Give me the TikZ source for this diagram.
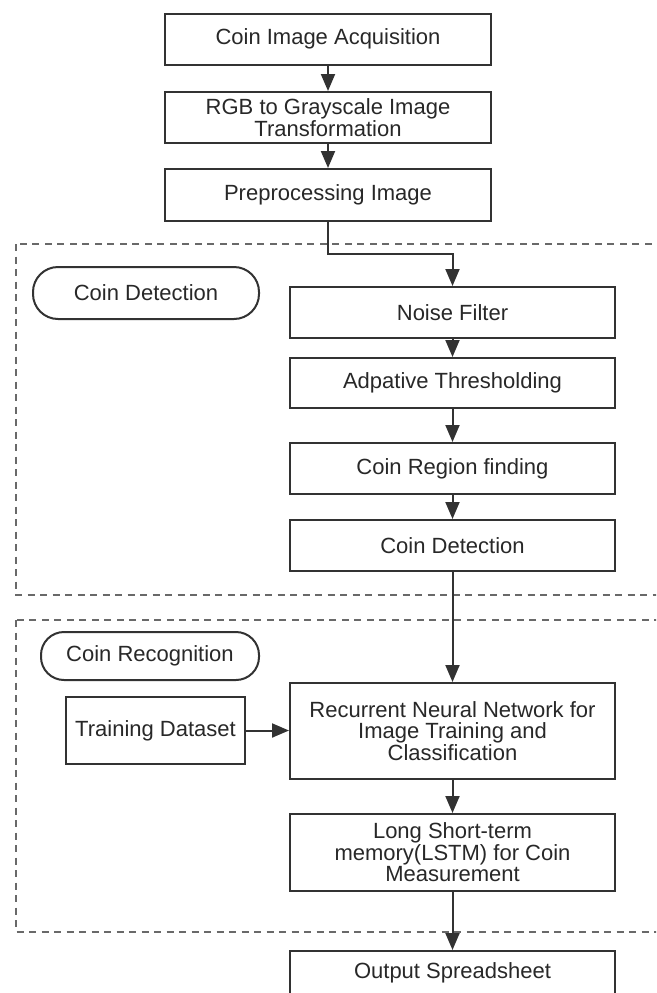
\documentclass[tikz,border=0pt]{standalone}
\usepackage{fontspec}
\setmainfont{Liberation Sans}
\usepackage{tikz}
\usetikzlibrary{arrows.meta,positioning}
\definecolor{flowline}{RGB}{50,50,50}
\definecolor{flowtext}{RGB}{40,40,40}
\definecolor{framegray}{RGB}{105,105,105}
\tikzset{
  pbox/.style={draw=flowline, line width=2pt, fill=white, minimum width=325pt,
    minimum height=51pt, align=center, text=flowtext, inner sep=2pt,
    font=\fontsize{22}{21.5}\selectfont},
  stage/.style={draw=flowline, line width=2pt, rounded corners=25pt, text=flowtext,
    inner sep=0pt, font=\fontsize{22}{21.5}\selectfont},
  frame/.style={draw=framegray, line width=1.6pt, dash pattern=on 7pt off 5.5pt},
  farr/.style={-{Triangle[length=17pt, width=14pt]}, flowline, line width=2pt},
}
\begin{document}
\begin{tikzpicture}[x=1pt, y=-1pt]
  \useasboundingbox (0,0) rectangle (656,993);
  \clip (0,0) rectangle (656,993);
  % dashed stage frames
  \draw[frame] (16,244) rectangle (664,595);
  \draw[frame] (16,620) rectangle (664,932);
  % preparation chain
  \node[pbox, minimum width=326pt] (acq) at (328,39) {Coin Image Acquisition};
  \node[pbox, minimum width=326pt] (gray) at (328,117.5) {RGB to Grayscale Image\\Transformation};
  \node[pbox, minimum width=326pt, minimum height=52pt] (prep) at (328,195) {Preprocessing Image};
  % coin detection
  \node[stage, minimum width=226pt, minimum height=52pt] (detlab) at (146,293) {Coin Detection};
  \node[pbox] (noise) at (452.5,312.5) {Noise Filter};
  \node[pbox, minimum height=50pt] (thresh) at (452.5,383) {Adpative Thresholding};
  \node[pbox] (region) at (452.5,468.5) {Coin Region finding};
  \node[pbox] (detect) at (452.5,545.5) {Coin Detection};
  % coin recognition
  \node[stage, minimum width=218pt, minimum height=48pt, rounded corners=23pt] (reclab) at (150,656) {Coin Recognition};
  \node[pbox, minimum width=179pt, minimum height=67pt] (train) at (155.5,730.5) {Training Dataset};
  \node[pbox, minimum height=96pt] (rnn) at (452.5,731) {Recurrent Neural Network for\\Image Training and\\Classification};
  \node[pbox, minimum height=77pt] (lstm) at (452.5,852.5) {Long Short-term\\memory(LSTM) for Coin\\Measurement};
  \node[pbox, minimum height=52pt, text depth=12pt] (out) at (452.5,977) {Output Spreadsheet};
  % connectors
  \draw[farr] (acq) -- (gray);
  \draw[farr] (gray) -- (prep);
  \draw[farr] (prep.south) -- ++(0,32) -| (noise.north);
  \draw[farr] (noise) -- (thresh);
  \draw[farr] (thresh) -- (region);
  \draw[farr] (region) -- (detect);
  \draw[farr] (detect) -- (rnn);
  \draw[farr] (train.east) -- (train.east -| rnn.west);
  \draw[farr] (rnn) -- (lstm);
  \draw[farr] (lstm) -- (out);
\end{tikzpicture}
\end{document}
